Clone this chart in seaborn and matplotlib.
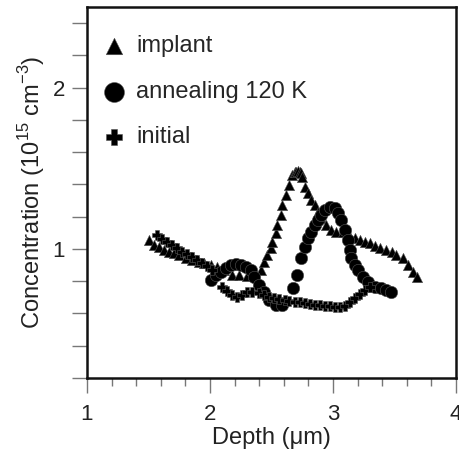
import matplotlib
matplotlib.use("Agg")
import matplotlib.pyplot as plt
from matplotlib.ticker import MultipleLocator
import seaborn as sns
import pandas as pd

# implant (triangles)
implant_x = [1.505, 1.546, 1.587, 1.628, 1.668, 1.709, 1.750, 1.804, 1.856, 1.913,
             1.954, 2.008, 2.059, 2.117, 2.182, 2.239, 2.304, 2.361, 2.416, 2.443,
             2.467, 2.497, 2.508, 2.538, 2.548, 2.579, 2.589, 2.619, 2.646, 2.670,
             2.690, 2.701, 2.715, 2.728, 2.740, 2.752, 2.769, 2.793, 2.823, 2.850,
             2.874, 2.905, 2.945, 2.986, 3.027, 3.078, 3.135, 3.180, 3.217, 3.260,
             3.298, 3.340, 3.380, 3.434, 3.480, 3.516, 3.567, 3.608, 3.649, 3.679]
implant_y = [1.056, 1.025, 1.014, 0.994, 0.983, 0.975, 0.963, 0.944, 0.932, 0.921,
             0.913, 0.901, 0.890, 0.870, 0.839, 0.839, 0.832, 0.832, 0.870, 0.921,
             0.963, 1.006, 1.045, 1.099, 1.149, 1.211, 1.273, 1.335, 1.398, 1.460,
             1.475, 1.480, 1.482, 1.480, 1.470, 1.449, 1.387, 1.348, 1.304, 1.273,
             1.232, 1.193, 1.149, 1.118, 1.107, 1.107, 1.076, 1.065, 1.056, 1.045,
             1.037, 1.020, 1.006, 0.994, 0.978, 0.963, 0.944, 0.901, 0.859, 0.828]

# annealing 120 K (circles)
anneal_x = [2.008, 2.049, 2.090, 2.130, 2.171, 2.212, 2.253, 2.293, 2.334, 2.361,
            2.402, 2.443, 2.483, 2.538, 2.589, 2.671, 2.711, 2.742, 2.769, 2.793,
            2.823, 2.850, 2.874, 2.905, 2.932, 2.972, 3.013, 3.037, 3.068, 3.095,
            3.119, 3.135, 3.149, 3.176, 3.200, 3.241, 3.282, 3.339, 3.394, 3.434,
            3.475]
anneal_y = [0.807, 0.839, 0.859, 0.882, 0.901, 0.907, 0.901, 0.890, 0.870, 0.828,
            0.776, 0.735, 0.683, 0.652, 0.652, 0.758, 0.839, 0.944, 1.014, 1.068,
            1.107, 1.149, 1.180, 1.211, 1.242, 1.263, 1.255, 1.224, 1.180, 1.118,
            1.056, 0.994, 0.944, 0.901, 0.870, 0.828, 0.797, 0.766, 0.758, 0.745,
            0.735]

# initial (crosses)
initial_x = [1.571, 1.611, 1.652, 1.693, 1.733, 1.774, 1.815, 1.856, 1.896, 1.937,
             1.978, 2.019, 2.100, 2.141, 2.182, 2.222, 2.263, 2.304, 2.345, 2.402,
             2.443, 2.483, 2.524, 2.565, 2.606, 2.646, 2.687, 2.728, 2.769, 2.809,
             2.850, 2.891, 2.932, 2.972, 3.013, 3.054, 3.094, 3.135, 3.176, 3.217,
             3.257, 3.298]
initial_y = [1.087, 1.062, 1.045, 1.025, 1.006, 0.983, 0.969, 0.950, 0.932, 0.913,
             0.894, 0.870, 0.766, 0.739, 0.714, 0.702, 0.714, 0.733, 0.735, 0.727,
             0.714, 0.704, 0.696, 0.689, 0.683, 0.679, 0.674, 0.671, 0.665, 0.658,
             0.655, 0.652, 0.649, 0.646, 0.643, 0.640, 0.646, 0.671, 0.696, 0.720,
             0.745, 0.764]

x_major = [1, 2, 3, 4]
y_major = [1, 2]

sns.set_style("ticks")
plt.rcParams['font.family'] = ['Liberation Sans', 'DejaVu Sans']
plt.rcParams['mathtext.fontset'] = 'custom'
plt.rcParams['mathtext.rm'] = 'Liberation Sans'

fig = plt.figure(figsize=(4.59, 4.51), dpi=100)
ax = fig.add_axes([0.1895, 0.1619, 0.8040, 0.8226])

ec = '#555555'
sns.scatterplot(x=implant_x, y=implant_y, marker='^', s=55, color='black',
                edgecolor=ec, linewidth=0.4, label='implant', ax=ax, zorder=3)
sns.scatterplot(x=anneal_x, y=anneal_y, marker='o', s=80, color='black',
                edgecolor=ec, linewidth=0.4, label='annealing 120 K', ax=ax, zorder=3)
sns.scatterplot(x=initial_x, y=initial_y, marker='P', s=50, color='black',
                edgecolor=ec, linewidth=0.4, label='initial', ax=ax, zorder=4)

ax.set_xlim(1, 4)
ax.set_ylim(0.2, 2.5)
ax.set_xticks(x_major)
ax.set_yticks(y_major)
ax.xaxis.set_minor_locator(MultipleLocator(0.2))
ax.yaxis.set_minor_locator(MultipleLocator(0.2))
ax.tick_params(axis='x', which='major', length=11, width=1, color='#777777',
               labelsize=16, pad=8, labelcolor='#222222')
ax.tick_params(axis='x', which='minor', length=6, width=1, color='#777777')
ax.tick_params(axis='y', which='both', length=11, width=1, color='#777777',
               labelsize=16, pad=5, labelcolor='#222222')
for sp in ax.spines.values():
    sp.set_linewidth(1.8)
    sp.set_color('#111111')

ax.set_xlabel('Depth (\u03bcm)', fontsize=17, labelpad=1, color='#222222')
ax.set_ylabel('Concentration (10$^{15}$ cm$^{-3}$)', fontsize=17, labelpad=4,
              color='#222222')

leg = ax.legend(loc='upper left', bbox_to_anchor=(-0.017, 0.975), frameon=False,
                fontsize=17, markerscale=1.6, labelspacing=1.0,
                handlelength=1.2, handletextpad=0.35, borderaxespad=0.5,
                borderpad=0.3)

fig.savefig('out.png', dpi=100)
